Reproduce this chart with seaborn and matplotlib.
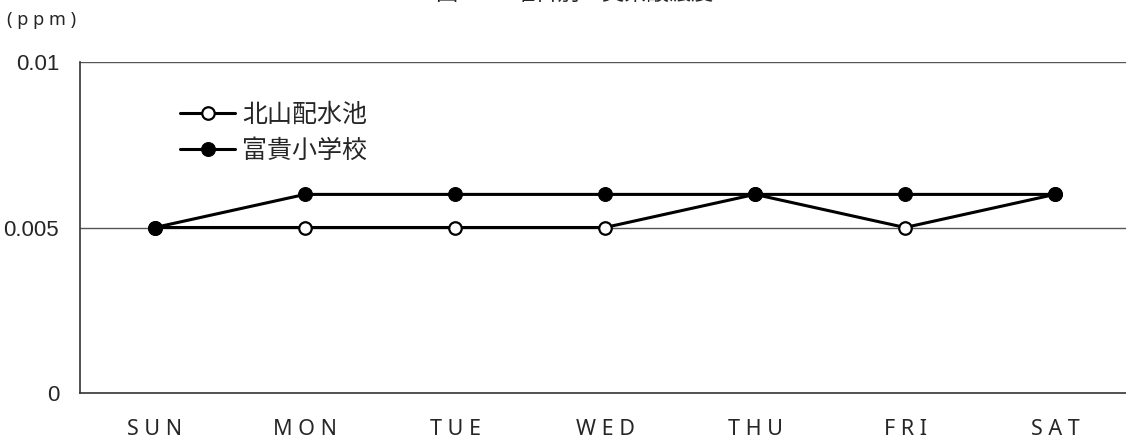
import matplotlib
matplotlib.use("Agg")
import matplotlib.pyplot as plt
import seaborn as sns
import pandas as pd

days = ["SUN", "MON", "TUE", "WED", "THU", "FRI", "SAT"]
kitayama = [0.005, 0.005, 0.005, 0.005, 0.006, 0.005, 0.006]
fuki = [0.005, 0.006, 0.006, 0.006, 0.006, 0.006, 0.006]
series_names = ["北山配水池", "富貴小学校"]
y_ticks = [0, 0.005, 0.01]
y_tick_labels = ["0", "0.005", "0.01"]
title = "図-11　曜日別　臭素酸濃度"
unit = "( p p m )"

sns.set_theme(style="white")
plt.rcParams["font.family"] = ["Noto Sans CJK JP", "DejaVu Sans"]

W, H = 1126, 446
fig = plt.figure(figsize=(W / 100, H / 100), dpi=100)
ax = fig.add_axes([80 / W, (H - 393) / H, 1050 / W, (393 - 62) / H])

pos = list(range(len(days)))
df = pd.DataFrame({"pos": pos + pos,
                   "val": kitayama + fuki,
                   "site": [series_names[0]] * 7 + [series_names[1]] * 7})

sns.lineplot(data=df[df.site == series_names[0]], x="pos", y="val", ax=ax,
             color="black", lw=2.2, marker="o", markersize=9,
             markerfacecolor="white", markeredgecolor="black", markeredgewidth=1.6,
             label=series_names[0], zorder=3)
sns.lineplot(data=df[df.site == series_names[1]], x="pos", y="val", ax=ax,
             color="black", lw=2.2, marker="o", markersize=10,
             markerfacecolor="black", markeredgecolor="black",
             label=series_names[1], zorder=4)

ax.set_xlim(-0.5, 6.5)
ax.set_ylim(0, 0.01)
ax.set_xlabel("")
ax.set_ylabel("")

for y in y_ticks[1:]:
    ax.axhline(y, color="#555555", lw=1.0, zorder=1)

ax.set_yticks(y_ticks)
ax.set_yticklabels(y_tick_labels, family="Liberation Sans", fontsize=16)
ax.set_xticks(pos)
ax.set_xticklabels([" ".join(d) for d in days], family="Noto Sans", fontsize=15.5)
ax.tick_params(axis="x", which="major", length=0, pad=19)
ax.tick_params(axis="y", which="major", length=0, pad=15)
ax.set_xticks([p + 0.5 for p in pos[:-1]], minor=True)
ax.tick_params(axis="x", which="minor", direction="in", length=8, width=1, color="#333333")

for s in ["top", "right"]:
    ax.spines[s].set_visible(False)
for s in ["left", "bottom"]:
    ax.spines[s].set_color("#333333")
    ax.spines[s].set_linewidth(1.2)

leg = ax.legend(loc="upper left", bbox_to_anchor=(90 / 1050, 1 - 30 / 331),
                frameon=False, fontsize=18, handlelength=2.2, handletextpad=0.3,
                labelspacing=0.38, borderaxespad=0)

fig.text(7 / W, 1 - 25 / H, unit, fontsize=13, family="Noto Sans", va="baseline")
fig.text(575 / W, 1.0, title, fontsize=16, ha="center", va="baseline",
         family=["Noto Sans CJK JP", "DejaVu Sans"])

fig.savefig("out.png", dpi=100)
